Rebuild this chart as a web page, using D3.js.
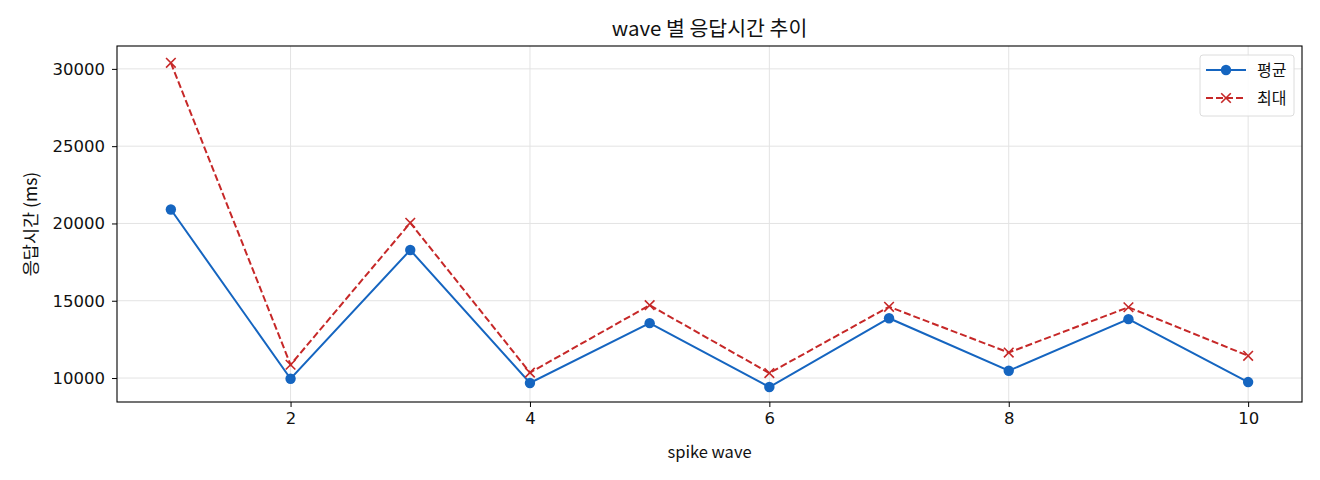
<!DOCTYPE html>
<html>
<head>
<meta charset="utf-8">
<script src="https://cdn.jsdelivr.net/npm/d3@7"></script>
<style>
  body { margin:0; background:#fff; }
  svg text { font-family: "Noto Sans CJK KR", "Noto Sans", sans-serif; fill:#111; }
</style>
</head>
<body>
<div id="chart"></div>
<script>
// wave 번호
var waves = [1,2,3,4,5,6,7,8,9,10];
// 평균 응답시간 (ms)
var avgMs = [20900, 9955, 18280, 9680, 13550, 9420, 13870, 10470, 13810, 9740];
// 최대 응답시간 (ms)
var maxMs = [30390, 10860, 20040, 10350, 14710, 10320, 14610, 11650, 14580, 11440];
var xTicks = [2,4,6,8,10];
var yTicks = [10000,15000,20000,25000,30000];
var seriesNames = ["평균","최대"];

var W = 1320, H = 480;
var m = {left:117, right:1302, top:46, bottom:402};

var svg = d3.select("#chart").append("svg")
  .attr("width", W).attr("height", H);

var x = d3.scaleLinear().domain([0.55, 10.45]).range([m.left, m.right]);
var y = d3.scaleLinear().domain([8450, 31480]).range([m.bottom, m.top]);

// grid
svg.append("g").selectAll("line").data(xTicks).enter().append("line")
  .attr("x1", d=>x(d)).attr("x2", d=>x(d)).attr("y1", m.top).attr("y2", m.bottom)
  .attr("stroke", "#e3e3e3").attr("stroke-width", 1);
svg.append("g").selectAll("line").data(yTicks).enter().append("line")
  .attr("y1", d=>y(d)).attr("y2", d=>y(d)).attr("x1", m.left).attr("x2", m.right)
  .attr("stroke", "#e3e3e3").attr("stroke-width", 1);

// axes
var xAxis = svg.append("g").attr("transform","translate(0,"+m.bottom+")")
  .call(d3.axisBottom(x).tickValues(xTicks).tickSize(5).tickPadding(5).tickFormat(d3.format("d")));
var yAxis = svg.append("g").attr("transform","translate("+m.left+",0)")
  .call(d3.axisLeft(y).tickValues(yTicks).tickSize(5).tickPadding(7).tickFormat(d3.format("d")));
[xAxis, yAxis].forEach(function(a){
  a.select(".domain").remove();
  a.selectAll("line").attr("stroke","#000").attr("stroke-width",1);
  a.selectAll("text").attr("font-size","16.5px").attr("fill","#222")
    .style("font-family","'DejaVu Sans', sans-serif");
});

// frame
svg.append("rect").attr("x", m.left).attr("y", m.top)
  .attr("width", m.right-m.left).attr("height", m.bottom-m.top)
  .attr("fill","none").attr("stroke","#000").attr("stroke-width",1.1);

var blue = "#1565c0", red = "#c62828";
var line = d3.line().x((d,i)=>x(waves[i])).y(d=>y(d));

// 평균
svg.append("path").datum(avgMs).attr("d", line)
  .attr("fill","none").attr("stroke", blue).attr("stroke-width", 2);
svg.append("g").selectAll("circle").data(avgMs).enter().append("circle")
  .attr("cx",(d,i)=>x(waves[i])).attr("cy", d=>y(d)).attr("r", 5.2).attr("fill", blue);

// 최대
svg.append("path").datum(maxMs).attr("d", line)
  .attr("fill","none").attr("stroke", red).attr("stroke-width", 2)
  .attr("stroke-dasharray","7,3");
function cross(g, cx, cy, s, col) {
  g.append("path").attr("d", "M"+(cx-s)+","+(cy-s)+"L"+(cx+s)+","+(cy+s)+"M"+(cx-s)+","+(cy+s)+"L"+(cx+s)+","+(cy-s))
    .attr("stroke", col).attr("stroke-width", 1.6).attr("fill","none");
}
var mg = svg.append("g");
maxMs.forEach(function(d,i){ cross(mg, x(waves[i]), y(d), 4.8, red); });

// titles
svg.append("text").attr("x", (m.left+m.right)/2).attr("y", 36).attr("text-anchor","middle")
  .attr("font-size","20.5px").text("wave 별 응답시간 추이");
svg.append("text").attr("x", (m.left+m.right)/2).attr("y", 458).attr("text-anchor","middle")
  .attr("font-size","16.5px").text("spike wave");
svg.append("text").attr("transform","translate(37,"+((m.top+m.bottom)/2)+") rotate(-90)")
  .attr("text-anchor","middle").attr("font-size","17.5px").text("응답시간 (ms)");

// legend
var lg = svg.append("g").attr("transform","translate(1200,55)");
lg.append("rect").attr("width",94).attr("height",61).attr("rx",3)
  .attr("fill","#fff").attr("fill-opacity",0.85).attr("stroke","#dcdcdc");
lg.append("line").attr("x1",6).attr("x2",46).attr("y1",15).attr("y2",15)
  .attr("stroke",blue).attr("stroke-width",2);
lg.append("circle").attr("cx",26).attr("cy",15).attr("r",5.2).attr("fill",blue);
lg.append("line").attr("x1",6).attr("x2",46).attr("y1",43).attr("y2",43)
  .attr("stroke",red).attr("stroke-width",2).attr("stroke-dasharray","7,3");
cross(lg, 26, 43, 4.8, red);
lg.selectAll("text.lab").data(seriesNames).enter().append("text").attr("class","lab")
  .attr("x",57).attr("y",(d,i)=>15+i*28+6).attr("font-size","16px").text(d=>d);
</script>
</body>
</html>
